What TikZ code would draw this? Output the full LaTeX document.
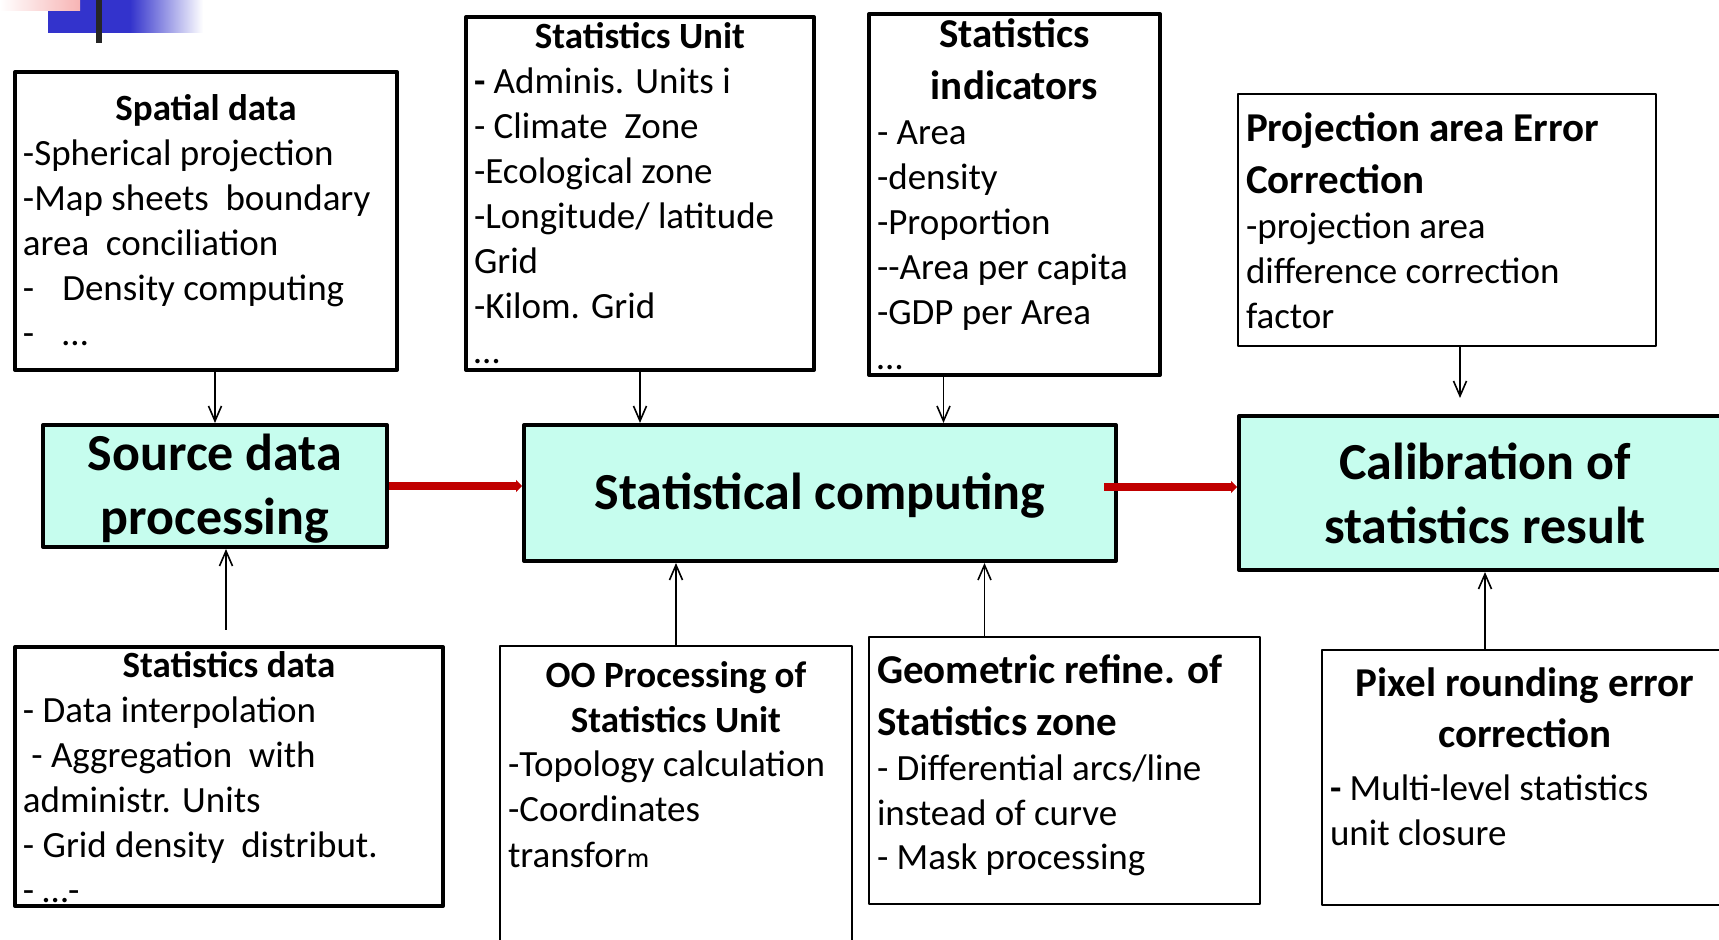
\documentclass[tikz,border=0pt]{standalone}
\usepackage{fontspec}
\setmainfont{Carlito}
\usetikzlibrary{arrows.meta}
\definecolor{boxfill}{HTML}{C6FDEE}
\definecolor{darkred}{HTML}{C00000}
\definecolor{logoblue}{HTML}{3333CC}
\definecolor{logopink}{HTML}{F7B4B4}
\newcommand{\itemfont}{\fontsize{18.5pt}{22.5pt}\selectfont}
\newcommand{\headfont}{\fontsize{20.5pt}{26pt}\selectfont\bfseries}
\newcommand{\boxtext}[4]{\parbox[c][#2][t]{#1}{\itemfont\raggedright\rule{0pt}{#3}#4}}
\newcommand{\lowered}[1]{\raisebox{-1.5pt}[\height][\depth]{#1}}
\begin{document}
\begin{tikzpicture}[x=0.5pt,y=-0.5pt,line join=round]
\tikzset{every node/.style={inner xsep=4pt,inner ysep=0pt,anchor=north west},
  thickbox/.style={draw,line width=2pt},
  thinbox/.style={draw,line width=1pt},
  mainbox/.style={draw,line width=2pt,fill=boxfill,align=center,inner sep=0pt,
    font=\fontsize{26pt}{32pt}\selectfont\bfseries},
  link/.style={-{Straight Barb[length=7.5pt,width=6.5pt]},line width=0.8pt},
  flow/.style={-{Triangle[length=3pt,width=6pt]},line width=4pt,darkred}}
\useasboundingbox (0,0) rectangle (1719,940);

\fill[logoblue] (48,0) rectangle (130,33);
\shade[left color=logoblue,right color=white] (130,0) rectangle (203,33);
\shade[left color=white,right color=logopink] (0,0) rectangle (80,11);
\fill[black!85] (96,0) rectangle (102,43);

\node[thickbox] (spatial) at (13,70) {\boxtext{183pt}{149pt}{24.5pt}{{\centering\bfseries Spatial data\par}
-Spherical projection\\ -Map sheets\ \ boundary\\ area\ \ conciliation\\ -\hspace{14pt}Density computing\\ -\hspace{14pt}…}};
\node[thickbox] (unit) at (464,15) {\boxtext{166pt}{176.5pt}{16pt}{{\centering\bfseries Statistics Unit\par}
{\bfseries -} Adminis. Units i\\ - Climate\ \ Zone\\ -Ecological zone\\ -Longitude/ latitude\\ Grid\\ -Kilom. Grid\\ …}};
\node[thickbox] (indic) at (867,12) {\boxtext{137.5pt}{180.5pt}{17pt}{{\centering\headfont Statistics\\ indicators\par}
- Area\\ -density\\ -Proportion\\ -{}-Area per capita\\ -GDP per Area\\ …}};
\node[thinbox] (proj) at (1237,93) {\boxtext{201pt}{126pt}{24pt}{{\headfont Projection area Error\\ Correction\par}
-projection area\\ difference correction\\ factor}};

\node[mainbox,minimum width=172pt,minimum height=61pt] (src) at (41,423) {\lowered{Source data}\\ \lowered{processing}};
\node[mainbox,minimum width=296pt,minimum height=68pt] (comp) at (522,423) {\lowered{Statistical computing}};
\node[mainbox,minimum width=246pt,minimum height=77pt] (calib) at (1237,414) {Calibration of\\ statistics result};

\node[thickbox] (data) at (13,645) {\boxtext{206pt}{129.5pt}{15pt}{{\centering\bfseries Statistics data\par}
- Data interpolation\\ \ - Aggregation\ \ with\\ administr. Units\\ - Grid density\ \ distribut.\\ - …-}};
\node[thinbox] (oo) at (499,645) {\boxtext{168pt}{152.5pt}{20.5pt}{{\centering\bfseries OO Processing of\\ Statistics Unit\par}
-Topology calculation\\ -Coordinates\\ transfor{\fontsize{14pt}{16pt}\selectfont m}}};
\node[thinbox] (geo) at (868,636) {\boxtext{187.5pt}{133.5pt}{23pt}{{\headfont Geometric refine. of\\ Statistics zone\par}
- Differential arcs/line\\ instead of curve\\ - Mask processing}};
\node[thinbox] (pixel) at (1321,649) {\boxtext{195pt}{127.5pt}{23pt}{{\centering\headfont Pixel rounding error\\ correction\par}\vspace{4pt}
{\bfseries -} Multi-level statistics\\ unit closure}};

\draw[link] (spatial.south -| src.north) -- (src.north);
\draw[link] (unit.south) -- (unit.south |- comp.north);
\draw[link] ([xshift=-35.5pt]indic.south) -- ([xshift=-35.5pt]indic.south |- comp.north);
\draw[link,shorten >=8pt] ([xshift=6.5pt]proj.south) -- ([xshift=6.5pt]proj.south |- calib.north);
\draw[link,shorten <=7.5pt] ([xshift=-1.5pt]data.north) -- ([xshift=-1.5pt]data.north |- src.south);
\draw[link] (oo.north) -- (oo.north |- comp.south);
\draw[link] ([xshift=-40pt]geo.north) -- ([xshift=-40pt]geo.north |- comp.south);
\draw[link] (calib.south |- pixel.north) -- (calib.south);
\draw[flow] (src.east) -- (src.east -| comp.west);
\draw[flow,shorten <=-7pt] ([yshift=3pt]comp.east) -- ([yshift=3pt]comp.east -| calib.west);
\end{tikzpicture}
\end{document}
